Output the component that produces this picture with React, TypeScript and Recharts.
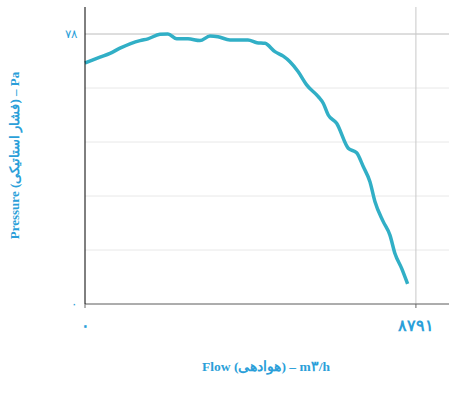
import { CartesianGrid, Label, Line, LineChart, ReferenceLine, XAxis, YAxis } from "recharts";

// flow (m3/h) vs static pressure (Pa)
const flow = [
  0, 398, 664, 930, 1461, 1673, 1992, 2204, 2436, 2736, 3054, 3320, 3532, 3851, 4329, 4568,
  4781, 5046, 5267, 5445, 5665, 5888, 6197, 6329, 6462, 6685, 6993, 7216, 7392, 7570, 7702,
  7923, 8101, 8234, 8412, 8571,
];
const pressure = [
  69.6, 71.3, 72.4, 73.9, 76.1, 76.6, 77.9, 78, 76.6, 76.6, 76.1, 77.4, 77.2, 76.3, 76.3, 75.5,
  75.3, 72.9, 71.6, 70.0, 67.1, 63.3, 59.9, 58.0, 54.6, 52.2, 45.0, 43.7, 39.7, 35.3, 29.6,
  23.8, 19.9, 14.6, 10.3, 5.8,
];

const maxFlow = 8791;
const maxPressure = 78;
const xTicks = [0, maxFlow];
const yTicks = [0, 15.6, 31.2, 46.8, 62.4, 78];
const yLabeled = [0, maxPressure];

const xTitle = "Flow (هوادهی) – m٣/h";
const yTitle = "Pressure (فشار استاتیکی) – Pa";

const data = flow.map((f, i) => ({ flow: f, pressure: pressure[i] }));

const faDigits = "۰۱۲۳۴۵۶۷۸۹";
const toFa = (v: number) => String(v).replace(/\d/g, (d) => faDigits[Number(d)]);

const blue = "#2b9fd9";
const font = "'Liberation Serif', 'DejaVu Serif', serif";

export default function App() {
  return (
    <div style={{ position: "absolute", left: 0, top: 0 }}>
      <LineChart
        width={449}
        height={398}
        data={data}
        margin={{ top: 7, right: 0, bottom: 0, left: 0 }}
      >
        <CartesianGrid vertical={false} stroke="#e8e8e8" horizontalValues={yTicks} />
        <XAxis
          dataKey="flow"
          type="number"
          domain={[0, maxFlow * 1.1]}
          ticks={xTicks}
          tickFormatter={(v: number) => toFa(v)}
          height={94}
          stroke="#666"
          tickSize={4}
          tickMargin={12}
          tick={{ fill: blue, fontSize: 16, fontWeight: 700, fontFamily: font, letterSpacing: 2 }}
        >
          <Label
            content={({ viewBox }: any) => (
              <text
                x={viewBox.x + viewBox.width / 2 - 1}
                y={viewBox.y + 67}
                textAnchor="middle"
                fill={blue}
                fontSize={13.5}
                fontWeight={700}
                fontFamily={font}
              >
                {xTitle}
              </text>
            )}
          />
        </XAxis>
        <YAxis
          dataKey="pressure"
          type="number"
          domain={[0, maxPressure * 1.1]}
          ticks={yTicks}
          tickFormatter={(v: number) => (yLabeled.includes(v) ? toFa(v) : "")}
          width={85}
          stroke="#000"
          tickLine={false}
          tickMargin={2}
          tick={{ fill: blue, fontSize: 12, fontFamily: font }}
        >
          <Label
            content={({ viewBox }: any) => (
              <text
                x={14}
                y={viewBox.y + viewBox.height / 2}
                transform={`rotate(-90 14 ${viewBox.y + viewBox.height / 2})`}
                textAnchor="middle"
                dominantBaseline="central"
                fill={blue}
                fontSize={13}
                fontWeight={700}
                fontFamily={font}
              >
                {yTitle}
              </text>
            )}
          />
        </YAxis>
        <ReferenceLine y={maxPressure} stroke="#c8c8c8" />
        <ReferenceLine x={maxFlow} stroke="#c8c8c8" />
        <Line
          dataKey="pressure"
          type="monotone"
          stroke="#31afc6"
          strokeWidth={3.5}
          dot={false}
          activeDot={false}
          isAnimationActive={false}
        />
      </LineChart>
    </div>
  );
}
